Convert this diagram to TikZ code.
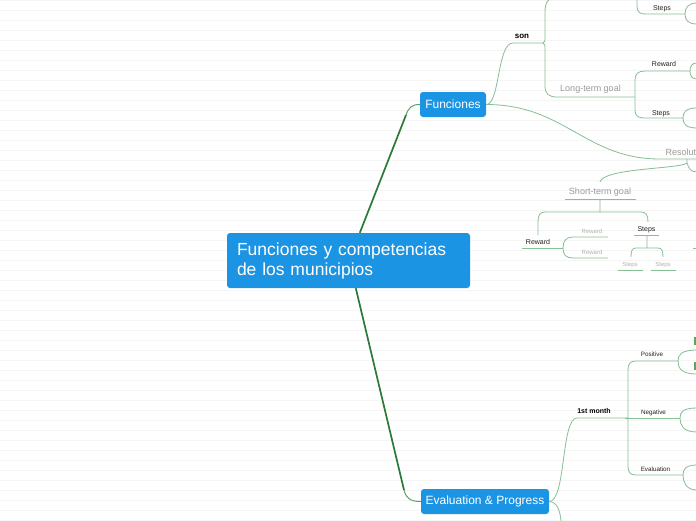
\documentclass[tikz,border=0pt]{standalone}
\usepackage{fontspec}
\setmainfont{Liberation Sans}
\usetikzlibrary{calc}
\definecolor{nodeblue}{HTML}{1C94E4}
\definecolor{darkgreen}{HTML}{2A7A38}
\definecolor{midgreen}{HTML}{5E9F6C}
\definecolor{lgreen}{HTML}{86BF94}
\definecolor{bgline}{HTML}{F5F5F5}
\definecolor{greytext}{HTML}{9A9A9A}
\definecolor{lighttext}{HTML}{B2B2B2}
\definecolor{darktext}{HTML}{222222}
\definecolor{markgreen}{HTML}{4CAF50}
\begin{document}
\begin{tikzpicture}[x=1pt,y=-1pt,
  topicbox/.style={fill=nodeblue, rounded corners=3pt, text=white, inner sep=0pt},
  mainconn/.style={draw=darkgreen, line width=1.7pt},
  subconn/.style={draw=midgreen, line width=1pt},
  conn/.style={draw=lgreen, line width=0.8pt},
  lbl/.style={inner sep=0pt, anchor=base, text=darktext, font=\fontsize{7}{8}\selectfont},
  lblsm/.style={inner sep=0pt, anchor=base, text=darktext, font=\fontsize{6.3}{7}\selectfont},
  boldlbl/.style={inner sep=0pt, anchor=base, text=black, font=\bfseries\fontsize{7}{8}\selectfont},
  goal/.style={inner sep=0pt, anchor=base, text=greytext, font=\fontsize{9}{10}\selectfont},
  tiny/.style={inner sep=0pt, anchor=base, text=lighttext, font=\fontsize{6}{7}\selectfont}
]
\useasboundingbox (0,0) rectangle (696,520);
\clip (0,0) rectangle (696,520);
\fill[white] (0,0) rectangle (696,520);
\foreach \yy in {0,10,...,520} \draw[bgline, line width=1pt] (0,\yy) -- (696,\yy);

% main topics
\node[topicbox, minimum width=243pt, minimum height=55pt, text width=223pt, inner xsep=10pt, align=left,
      font=\fontsize{17.5}{20}\selectfont] (C) at (348.5,260.5) {Funciones y competencias\\de los municipios};
\node[topicbox, minimum width=66pt, minimum height=25pt, font=\fontsize{12}{14}\selectfont] (F) at (453,104.5) {Funciones};
\node[topicbox, minimum width=128pt, minimum height=25pt, font=\fontsize{12}{14}\selectfont] (E) at (485,501.5) {Evaluation \& Progress};

% main connectors
\coordinate (cf) at (406,115);
\coordinate (ce) at (404,490);
\draw[mainconn] ([xshift=133pt]C.north west) -- (cf);
\draw[subconn] (cf) .. controls (409,107) and (412,104.5) .. (F.west);
\draw[mainconn] ([xshift=129pt]C.south west) -- (ce);
\draw[subconn] (ce) .. controls (406,498) and (410,501.5) .. (E.west);

% labels (upper part)
\node[boldlbl, font=\bfseries\fontsize{8}{9}\selectfont] (son) at (522,38) {son};
\node[goal] (lt) at (590.5,91) {Long-term goal};
\node[lbl] (rw1) at (664,66) {Reward};
\node[lbl] (st1) at (661,115) {Steps};
\node[lbl] (st0) at (662,10) {Steps};
\node[goal, anchor=base west] (res) at (665.5,155) {Resolut};
\node[goal] (sg) at (600,194) {Short-term goal};
\node[lbl] (rw2) at (538,244) {Reward};
\node[tiny] (rw3) at (592,233) {Reward};
\node[tiny] (rw4) at (592,254) {Reward};
\node[lbl] (st2) at (646.5,231) {Steps};
\node[tiny] (st3) at (630,266) {Steps};
\node[tiny] (st4) at (663,266) {Steps};

% labels (lower part)
\node[boldlbl] (fm) at (594,413.5) {1st month};
\node[lblsm] (pos) at (652,356) {Positive};
\node[lblsm] (neg) at (653.5,414) {Negative};
\node[lblsm] (ev) at (655.5,471) {Evaluation};

% coordinates
\coordinate (sonR) at (543,43);
\coordinate (ltR) at (635,97);
\coordinate (rwR) at (690,71);
\coordinate (stR) at (683,118);
\coordinate (tsR) at (685,14);
\coordinate (rsJ) at (687,159);
\coordinate (sgM) at (600,199);
\coordinate (rwlR) at (563,248);
\coordinate (stM) at (647,235);
\coordinate (fmR) at (625,418);
\coordinate (posR) at (678,361);
\coordinate (negR) at (680,418);
\coordinate (evR) at (683,475);

% Funciones branches
\draw[conn] (F.east) .. controls (500,104.5) and (497,43) .. (513,43) -- (sonR);
\draw[conn] (sonR) .. controls (545,43) and (545,41) .. (545,35) -- (545,12) .. controls (545,3) and (548,-3) .. (556,-3);
\draw[conn] (sonR) .. controls (545,43) and (545,45) .. (545,52) -- (545,86) .. controls (545,94) and (549,97) .. (557,97) -- (ltR);
\draw[conn] (ltR) -- (635,80) .. controls (635,74) and (638,71) .. (645,71) -- (rwR);
\draw[conn] (ltR) -- (635,110) .. controls (635,116) and (638,118) .. (645,118) -- (stR);
\draw[conn] (rwR) .. controls (690,66) and (692,63) .. (697,63);
\draw[conn] (rwR) .. controls (690,76) and (692,79) .. (697,79);
\draw[conn] (stR) .. controls (683,112) and (686,108) .. (697,108);
\draw[conn] (stR) .. controls (683,124) and (686,128) .. (697,128);
\draw[conn] (637,-3) -- (637,6) .. controls (637,12) and (640,14) .. (645,14) -- (tsR);
\draw[conn] (tsR) .. controls (685,8) and (688,3) .. (697,3);
\draw[conn] (tsR) .. controls (685,20) and (688,24) .. (697,24);

% Resolution branch
\draw[conn] (F.east) .. controls (565,104.5) and (585,159) .. (660,159) -- (697,159);
\draw[conn] (rsJ) -- (687,163) .. controls (680,169) and (603,168) .. (600,182);
\draw[conn] (687,163) .. controls (689,169) and (691,172) .. (697,172);
\draw[conn] (565,199) -- (636,199);
\draw[conn] (sgM) -- (600,212) -- (545,212) .. controls (540,212) and (538,215) .. (538,222) -- (538,235);
\draw[conn] (600,212) -- (641,212) .. controls (646,212) and (648,215) .. (648,222);
\draw[conn] (522,248) -- (rwlR);
\draw[conn] (rwlR) .. controls (563,241) and (566,237) .. (573,237) -- (608,237);
\draw[conn] (rwlR) .. controls (563,255) and (566,258) .. (573,258) -- (608,258);
\draw[conn] (634,235) -- (659,235);
\draw[conn] (stM) -- (647,248) -- (636,248) .. controls (632,248) and (631,251) .. (631,257);
\draw[conn] (647,248) -- (658,248) .. controls (662,248) and (663,251) .. (663,257);
\draw[conn] (618,270) -- (643,270);
\draw[conn] (651,270) -- (676,270);
\draw[conn] (693,248) -- (697,248);

% Evaluation branches
\draw[conn] (E.east) .. controls (566,501.5) and (561,418) .. (577,418) -- (fmR);
\draw[conn] (E.east) .. controls (557,502) and (560,510) .. (561,521);
\draw[conn] (fmR) -- (628,418) -- (628,370) .. controls (628,364) and (630,361) .. (636,361) -- (posR);
\draw[conn] (fmR) -- (negR);
\draw[conn] (628,418) -- (628,466) .. controls (628,472) and (630,475) .. (636,475) -- (evR);
\draw[conn] (posR) .. controls (678,355) and (681,350) .. (697,350);
\draw[conn] (posR) .. controls (678,368) and (681,374) .. (697,374);
\draw[conn] (negR) .. controls (680,412) and (683,408) .. (697,408);
\draw[conn] (negR) .. controls (680,425) and (683,432) .. (697,432);
\draw[conn] (evR) .. controls (683,469) and (686,465) .. (697,465);
\draw[conn] (evR) .. controls (683,482) and (686,490) .. (697,490);
\fill[markgreen] (694,337) rectangle (697,345);
\fill[markgreen] (694,362) rectangle (697,370);
\end{tikzpicture}
\end{document}
